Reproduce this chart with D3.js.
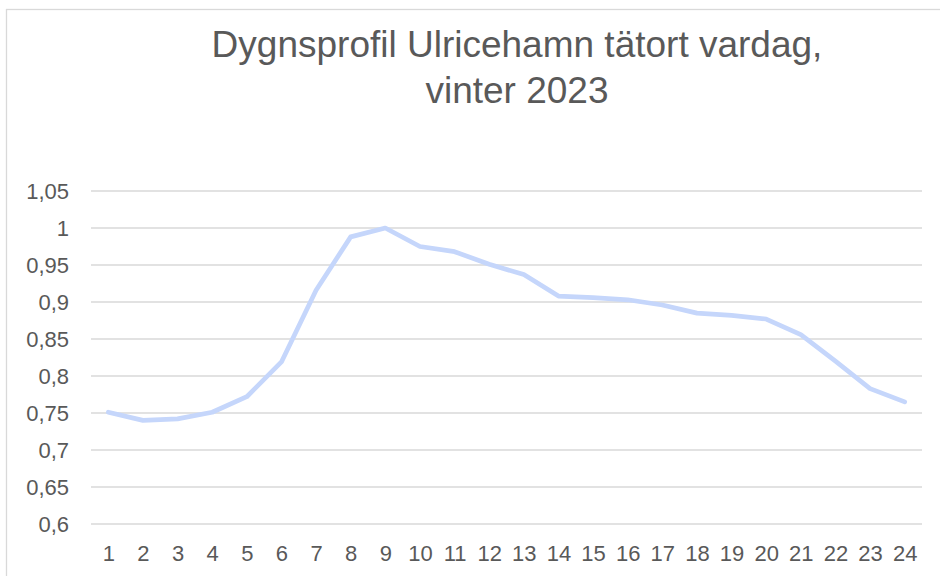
<!DOCTYPE html>
<html>
<head>
<meta charset="utf-8">
<script src="https://cdn.jsdelivr.net/npm/d3@7"></script>
<style>
  body { margin: 0; background: #fff; }
  svg { display: block; font-family: 'Liberation Sans', Arial, sans-serif; }
</style>
</head>
<body>
<div class="chart"></div>
<script>
// hours of the day (categories)
var hours = d3.range(1, 25).map(String);
// relative traffic per hour
var values = [0.751, 0.740, 0.742, 0.751, 0.772, 0.819, 0.916, 0.988, 1.000, 0.975,
              0.968, 0.951, 0.937, 0.908, 0.906, 0.903, 0.896, 0.885, 0.882, 0.877,
              0.856, 0.820, 0.783, 0.765];
var yTicks = [0.6, 0.65, 0.7, 0.75, 0.8, 0.85, 0.9, 0.95, 1, 1.05];
var titleLines = ['Dygnsprofil Ulricehamn tätort vardag,', 'vinter 2023'];

var w = 940, h = 576;
var plotLeft = 91, plotRight = 922, plotTop = 191, plotBottom = 524;

var svg = d3.select('.chart').append('svg')
    .attr('width', w)
    .attr('height', h);

// outer chart frame
svg.append('rect')
    .attr('x', 6.5).attr('y', 9.5)
    .attr('width', 960).attr('height', 600)
    .attr('fill', '#fff')
    .attr('stroke', '#d9d9d9')
    .attr('stroke-width', 1.3);

var x = d3.scalePoint()
    .domain(hours)
    .range([plotLeft, plotRight])
    .padding(0.5);

var y = d3.scaleLinear()
    .domain([0.6, 1.05])
    .range([plotBottom, plotTop]);

var fmt = function(d) { return String(+d.toFixed(2)).replace('.', ','); };

// gridlines
svg.append('g').selectAll('line')
    .data(yTicks)
    .enter().append('line')
    .attr('x1', plotLeft).attr('x2', plotRight)
    .attr('y1', function(d) { return y(d); })
    .attr('y2', function(d) { return y(d); })
    .attr('stroke', '#d9d9d9')
    .attr('stroke-width', 1.3);

// y axis labels
var yAxis = svg.append('g')
    .attr('transform', 'translate(' + (plotLeft - 22) + ',0)')
    .call(d3.axisLeft(y).tickValues(yTicks).tickFormat(fmt).tickSize(0).tickPadding(0));
yAxis.select('.domain').remove();
yAxis.selectAll('text')
    .attr('font-size', '22px')
    .attr('fill', '#595959')
    .attr('font-family', 'Liberation Sans, Arial, sans-serif');

// x axis labels
var xAxis = svg.append('g')
    .attr('transform', 'translate(0,' + (plotBottom + 21) + ')')
    .call(d3.axisBottom(x).tickSize(0).tickPadding(0));
xAxis.select('.domain').remove();
xAxis.selectAll('text')
    .attr('font-size', '22px')
    .attr('fill', '#595959')
    .attr('font-family', 'Liberation Sans, Arial, sans-serif');

// line
var line = d3.line()
    .x(function(d, i) { return x(hours[i]); })
    .y(function(d) { return y(d); });

svg.append('path')
    .datum(values)
    .attr('d', line)
    .attr('fill', 'none')
    .attr('stroke', '#c5d6fb')
    .attr('stroke-width', 4.7)
    .attr('stroke-linejoin', 'round')
    .attr('stroke-linecap', 'round');

// title
svg.append('g').selectAll('text')
    .data(titleLines)
    .enter().append('text')
    .attr('x', 517)
    .attr('y', function(d, i) { return 57 + i * 46; })
    .attr('text-anchor', 'middle')
    .attr('font-size', '37px')
    .attr('fill', '#595959')
    .text(function(d) { return d; });
</script>
</body>
</html>
